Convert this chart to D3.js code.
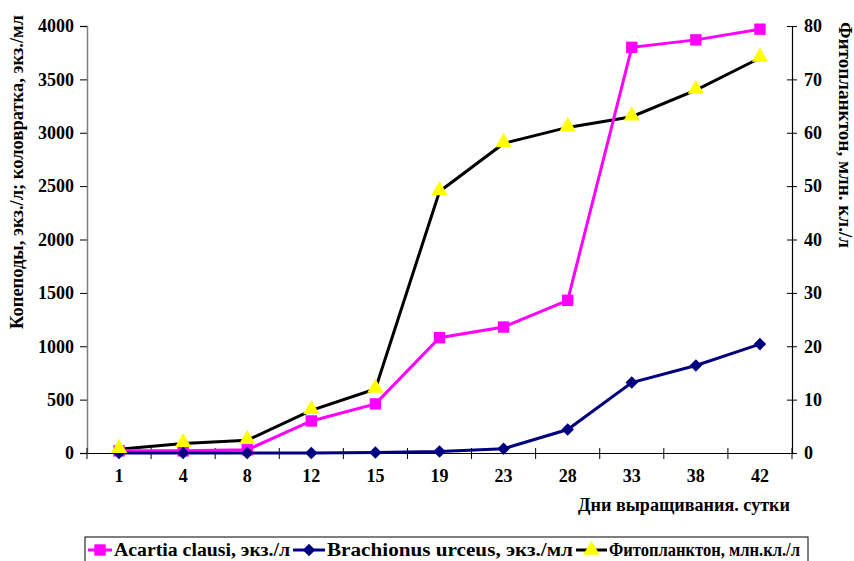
<!DOCTYPE html>
<html><head><meta charset="utf-8">
<script src="https://cdn.jsdelivr.net/npm/d3@7"></script>
<style>body{margin:0;background:#fff}svg{display:block}</style>
</head><body><svg id="c" width="854" height="561" font-family="'Liberation Serif','Times New Roman',serif" font-weight="bold"></svg>
<script>
const days = ["1","4","8","12","15","19","23","28","33","38","42"];
const acartia = [20,20,30,300,460,1080,1180,1430,3800,3870,3970];
const brachionus = [0,0,0,0,5,15,40,220,660,820,1020];
const phyto = [0.7,1.8,2.4,8,12,49,58,61,63,68,74];
const leftTicks = [0,500,1000,1500,2000,2500,3000,3500,4000];
const rightTicks = [0,10,20,30,40,50,60,70,80];

const FS = 18;
const svg = d3.select("#c");
const L=87,R=792,T=26,B=453;
const x = d3.scaleBand().domain(days).range([L,R]);
const yL = d3.scaleLinear().domain([0,4000]).range([B,T]);
const yR = d3.scaleLinear().domain([0,80]).range([B,T]);
const cx = d => x(d)+x.bandwidth()/2;

function styleAxis(g){
  g.attr("font-family",null).attr("font-size",null);
  g.selectAll("text").attr("font-size",FS).attr("fill","#000");
}

const gl = svg.append("g").attr("transform",`translate(${L},0)`)
  .call(d3.axisLeft(yL).tickValues(leftTicks).tickSize(7).tickPadding(6).tickFormat(d3.format("d")));
styleAxis(gl);
gl.select(".domain").attr("stroke","#808080").attr("stroke-width",1.5);
gl.selectAll(".tick line").attr("stroke","#000");

const gr = svg.append("g").attr("transform",`translate(${R},0)`)
  .call(d3.axisRight(yR).tickValues(rightTicks).tickSize(5).tickPadding(7));
styleAxis(gr);
gr.select(".domain").attr("stroke","#000").attr("stroke-width",1.2);
gr.selectAll(".tick line").attr("x1",-5).attr("stroke","#000");

const gx = svg.append("g").attr("transform",`translate(0,${B})`)
  .call(d3.axisBottom(x).tickSize(0).tickPadding(16));
styleAxis(gx);
gx.select(".domain").attr("stroke","#000").attr("stroke-width",1.2);
const bounds = days.map(d=>x(d)).concat([R]);
svg.append("g").selectAll("line").data(bounds).join("line")
  .attr("x1",d=>d).attr("x2",d=>d).attr("y1",B-5).attr("y2",B+6).attr("stroke","#000");

svg.append("text").attr("transform","translate(23,172) rotate(-90)").attr("text-anchor","middle")
  .attr("font-size",FS).attr("textLength",314).attr("lengthAdjust","spacingAndGlyphs")
  .text("Копеподы, экз./л; коловратка, экз./мл");
svg.append("text").attr("transform","translate(839,135) rotate(90)").attr("text-anchor","middle")
  .attr("font-size",FS).attr("textLength",226).attr("lengthAdjust","spacingAndGlyphs")
  .text("Фитопланктон, млн. кл./л");
svg.append("text").attr("x",790).attr("y",511).attr("text-anchor","end")
  .attr("font-size",FS).attr("textLength",212).attr("lengthAdjust","spacingAndGlyphs")
  .text("Дни выращивания. сутки");

const line = (ys,vals)=> d3.line().x((v,i)=>cx(days[i])).y(v=>ys(v))(vals);

svg.append("path").attr("d",line(yR,phyto)).attr("fill","none").attr("stroke","#000").attr("stroke-width",3);
svg.append("path").attr("d",line(yL,acartia)).attr("fill","none").attr("stroke","#ff00ff").attr("stroke-width",3);
svg.append("path").attr("d",line(yL,brachionus)).attr("fill","none").attr("stroke","#000080").attr("stroke-width",3);

const sq = d3.symbol().type(d3.symbolSquare).size(130);
const dia = d3.symbol().type(d3.symbolDiamond2).size(100);
const tri = d3.symbol().type(d3.symbolTriangle).size(115);

svg.append("g").selectAll("path").data(acartia).join("path")
  .attr("d",sq).attr("transform",(v,i)=>`translate(${cx(days[i])},${yL(v)})`).attr("fill","#ff00ff");
svg.append("g").selectAll("path").data(brachionus).join("path")
  .attr("d",dia).attr("transform",(v,i)=>`translate(${cx(days[i])},${yL(v)})`).attr("fill","#000080");
svg.append("g").selectAll("path").data(phyto).join("path")
  .attr("d",tri).attr("transform",(v,i)=>`translate(${cx(days[i])},${yR(v)-1})`).attr("fill","#ffff00");

const lg = svg.append("g");
lg.append("rect").attr("x",85).attr("y",537).attr("width",723).attr("height",30).attr("fill","#fff").attr("stroke","#000").attr("stroke-width",1);
const items = [
  {x0:88,x1:112,tx:114,w:176,col:"#ff00ff",sym:sq,fill:"#ff00ff",label:"Acartia clausi, экз./л"},
  {x0:293,x1:325,tx:327,w:246,col:"#000080",sym:dia,fill:"#000080",label:"Brachionus urceus, экз./мл"},
  {x0:576,x1:607,tx:609,w:191,col:"#000",sym:tri,fill:"#ffff00",label:"Фитопланктон, млн.кл./л"}
];
const ly = 550;
items.forEach(it=>{
  lg.append("line").attr("x1",it.x0).attr("x2",it.x1).attr("y1",ly).attr("y2",ly).attr("stroke",it.col).attr("stroke-width",3);
  lg.append("path").attr("d",it.sym).attr("transform",`translate(${(it.x0+it.x1)/2},${ly})`).attr("fill",it.fill);
  lg.append("text").attr("x",it.tx).attr("y",ly+6).attr("font-size",FS)
    .attr("textLength",it.w).attr("lengthAdjust","spacingAndGlyphs").text(it.label);
});
</script></body></html>
